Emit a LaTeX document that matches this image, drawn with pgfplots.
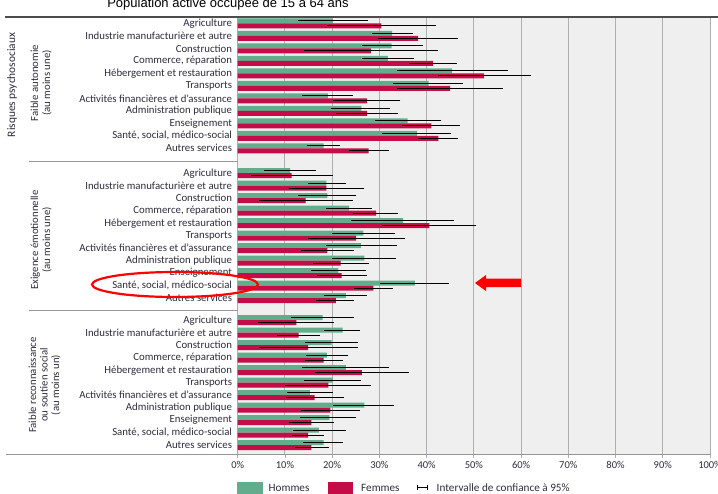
\documentclass[border=0pt]{standalone}
\usepackage{pgfplots}
\pgfplotsset{compat=1.18}
\usepackage{pgfplotstable}
\usepackage{fontspec}
\setmainfont{Carlito}
\newfontfamily\titlefont{Liberation Sans}

\definecolor{hommes}{RGB}{98,173,139}
\definecolor{femmes}{RGB}{196,12,72}
\definecolor{fond}{RGB}{239,239,239}
\definecolor{grille}{RGB}{175,175,175}
\definecolor{texte}{RGB}{45,45,60}
\definecolor{filet}{RGB}{150,150,150}

% y = row centre; h/f = share (%) for men/women, lo/hi = 95% confidence bounds
\pgfplotstableread{
y     h    hlo  hhi  f    flo  fhi
23.3  20.1 13.2 27.0 30.4 19.5 41.5
35.8  32.7 28.9 36.5 38.2 30.2 46.1
48.3  32.6 26.8 38.7 28.2 14.6 41.9
60.8  31.8 26.8 36.9 41.4 36.9 45.8
73.3  45.4 34.2 56.7 52.2 42.9 61.5
85.8  40.4 33.5 47.2 45.0 34.2 55.6
98.3  19.1 14.1 23.9 27.4 20.8 33.9
110.8 26.2 20.2 31.8 27.4 21.3 33.5
123.3 36.0 29.5 42.6 41.0 35.4 46.5
135.8 38.0 31.1 44.7 42.5 38.6 46.1
148.3 18.2 15.1 21.1 27.7 24.0 31.6
}\autonomie

\pgfplotstableread{
y     h    hlo  hhi  f    flo  fhi
173.2 11.1 6.1  16.1 11.4 3.3  19.6
185.7 18.8 15.4 22.3 18.8 11.3 26.3
198.2 19.0 13.3 24.6 14.4 5.1  23.8
210.7 23.6 19.2 27.8 29.3 24.9 33.5
223.2 35.0 24.6 45.2 40.6 31.1 50.0
235.7 26.6 20.5 32.8 25.1 15.5 34.8
248.2 26.1 19.3 33.1 19.0 13.9 24.0
260.7 26.8 20.6 32.9 21.8 16.4 27.3
273.2 21.3 16.0 26.6 22.0 17.4 26.8
285.7 37.5 30.7 44.2 28.7 25.1 32.3
298.2 22.9 18.7 26.8 20.8 17.2 24.0
}\emotion

\pgfplotstableread{
y     h    hlo  hhi  f    flo  fhi
320.2 18.0 11.8 24.0 12.4 4.9  19.8
332.7 22.2 18.7 25.4 12.9 8.8  16.9
345.2 19.9 14.7 24.9 14.9 5.1  24.9
357.7 18.9 14.9 22.9 18.2 14.7 21.8
370.2 22.9 14.1 31.4 26.3 16.8 35.7
382.7 20.1 14.6 25.5 19.2 10.6 27.6
395.2 15.3 10.9 19.6 16.3 10.7 21.9
407.7 26.8 20.8 32.6 19.6 13.9 25.3
420.2 19.4 13.7 24.6 15.6 11.3 19.8
432.7 17.2 12.2 22.3 14.9 12.0 17.7
445.2 18.2 14.3 21.8 15.6 12.7 18.8
}\reconnaissance

\pgfplotsset{
  hommesbar/.style={fill=hommes, draw=none, bar shift=-2.5,
    error bars/.cd, x dir=both, x explicit,
    error bar style={black, line width=0.7pt},
    error mark options={black, mark size=2.5pt, line width=0.7pt}},
  femmesbar/.style={fill=femmes, draw=none, bar shift=2.5,
    error bars/.cd, x dir=both, x explicit,
    error bar style={black, line width=0.7pt},
    error mark options={black, mark size=2.5pt, line width=0.7pt}},
}

\begin{document}
\begin{tikzpicture}
\useasboundingbox (0,0) rectangle (718pt,-493pt);
\clip (0,0) rectangle (718pt,-493pt);

% title
\node[font=\titlefont\fontsize{13}{15}\selectfont, anchor=base] at (228pt,-7pt)
  {Population active occupée de 15 à 64 ans};

\begin{axis}[
  at={(237.7pt,-17pt)}, anchor=north west,
  scale only axis, width=472.3pt, height=437pt,
  xmin=0, xmax=100, ymin=17, ymax=454, y dir=reverse,
  xbar, bar width=5,
  clip=false,
  axis line style={draw=none},
  axis background/.style={fill=fond},
  /pgf/number format/assume math mode=true,
  xtick={0,10,...,100},
  xticklabel={\pgfmathprintnumber{\tick}\%},
  xmajorgrids, grid style={grille, line width=1pt},
  tick align=outside, xtick pos=bottom,
  major tick length=4pt,
  x tick style={grille, line width=0.8pt},
  xticklabel style={font=\fontsize{10.5}{12}\selectfont, color=texte, inner sep=0pt, yshift=-3.5pt},
  ytick={23.3,35.8,48.3,60.8,73.3,85.8,98.3,110.8,123.3,135.8,148.3,
         173.2,185.7,198.2,210.7,223.2,235.7,248.2,260.7,273.2,285.7,298.2,
         320.2,332.7,345.2,357.7,370.2,382.7,395.2,407.7,420.2,432.7,445.2},
  yticklabels={Agriculture, Industrie manufacturière et autre, Construction,
    {Commerce, réparation}, Hébergement et restauration, Transports,
    Activités financières et d'assurance, Administration publique,
    Enseignement, {Santé, social, médico-social}, Autres services,
    Agriculture, Industrie manufacturière et autre, Construction,
    {Commerce, réparation}, Hébergement et restauration, Transports,
    Activités financières et d'assurance, Administration publique,
    Enseignement, {Santé, social, médico-social}, Autres services,
    Agriculture, Industrie manufacturière et autre, Construction,
    {Commerce, réparation}, Hébergement et restauration, Transports,
    Activités financières et d'assurance, Administration publique,
    Enseignement, {Santé, social, médico-social}, Autres services},
  y tick style={draw=none},
  yticklabel style={font=\fontsize{10.8}{12}\selectfont, color=texte, anchor=east, inner sep=0pt, xshift=-1.5pt},
]
\addplot[hommesbar] table[x=h, y=y,
  x error plus expr=\thisrow{hhi}-\thisrow{h}, x error minus expr=\thisrow{h}-\thisrow{hlo}] {\autonomie};
\addplot[femmesbar] table[x=f, y=y,
  x error plus expr=\thisrow{fhi}-\thisrow{f}, x error minus expr=\thisrow{f}-\thisrow{flo}] {\autonomie};
\addplot[hommesbar] table[x=h, y=y,
  x error plus expr=\thisrow{hhi}-\thisrow{h}, x error minus expr=\thisrow{h}-\thisrow{hlo}] {\emotion};
\addplot[femmesbar] table[x=f, y=y,
  x error plus expr=\thisrow{fhi}-\thisrow{f}, x error minus expr=\thisrow{f}-\thisrow{flo}] {\emotion};
\addplot[hommesbar] table[x=h, y=y,
  x error plus expr=\thisrow{hhi}-\thisrow{h}, x error minus expr=\thisrow{h}-\thisrow{hlo}] {\reconnaissance};
\addplot[femmesbar] table[x=f, y=y,
  x error plus expr=\thisrow{fhi}-\thisrow{f}, x error minus expr=\thisrow{f}-\thisrow{flo}] {\reconnaissance};
\end{axis}

% frame lines
\draw[color=black!70, line width=1.2pt] (5pt,-17pt) -- (718pt,-17pt);
\draw[filet, line width=0.8pt] (29pt,-161pt) -- (237.7pt,-161pt);
\draw[filet, line width=0.8pt] (29pt,-310pt) -- (237.7pt,-310pt);
\draw[filet, line width=0.8pt] (6pt,-454pt) -- (710pt,-454pt);

% group titles
\node[rotate=90, font=\fontsize{11.4}{13}\selectfont, color=texte] at (12pt,-85pt) {Risques psychosociaux};
\node[rotate=90, align=center, font=\fontsize{10.8}{12}\selectfont, color=texte] at (41pt,-83pt)
  {Faible autonomie\\(au moins une)};
\node[rotate=90, align=center, font=\fontsize{10.8}{12}\selectfont, color=texte] at (41pt,-240pt)
  {Exigence émotionnelle\\(au moins une)};
\node[rotate=90, align=center, font=\fontsize{10.8}{11.5}\selectfont, color=texte] at (44.5pt,-385pt)
  {Faible reconnaissance\\ou soutien social\\(au moins un)};

% highlight
\draw[red, line width=2.2pt] (175pt,-284.5pt) ellipse (83pt and 12.5pt);
\fill[red] (521pt,-278.5pt) -- (486pt,-278.5pt) -- (486pt,-275pt) -- (475pt,-283pt)
  -- (486pt,-291pt) -- (486pt,-287pt) -- (521pt,-287pt) -- cycle;

% legend
\begin{scope}[font=\fontsize{11.2}{13}\selectfont, color=texte]
\fill[hommes] (237pt,-481.5pt) rectangle (262.5pt,-494pt);
\node[anchor=base west, inner sep=0pt] at (268.5pt,-491pt) {Hommes};
\fill[femmes] (328pt,-481.5pt) rectangle (353pt,-494pt);
\node[anchor=base west, inner sep=0pt] at (361pt,-491pt) {Femmes};
\draw[black, line width=0.7pt] (417pt,-487pt) -- (427pt,-487pt);
\draw[black, line width=0.7pt] (417pt,-484.5pt) -- (417pt,-489.5pt);
\draw[black, line width=0.7pt] (427pt,-484.5pt) -- (427pt,-489.5pt);
\node[anchor=base west, inner sep=0pt] at (436.5pt,-491pt) {Intervalle de confiance à 95\%};
\end{scope}
\end{tikzpicture}
\end{document}
